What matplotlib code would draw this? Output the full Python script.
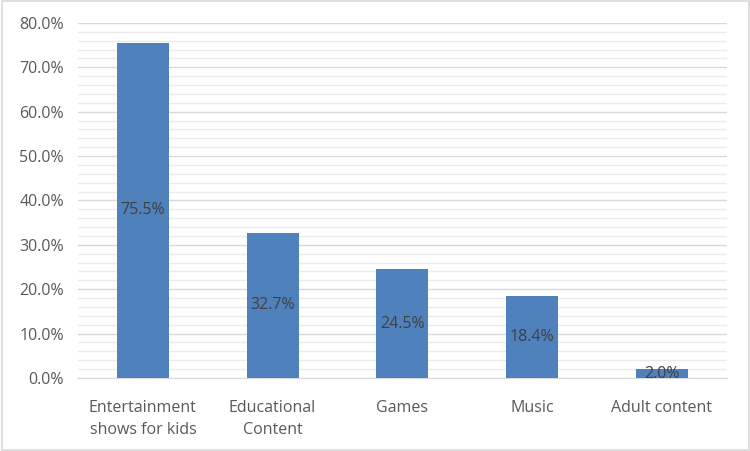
import matplotlib
matplotlib.use("Agg")
import matplotlib.pyplot as plt
from matplotlib.ticker import MultipleLocator, FuncFormatter
from matplotlib.patches import Rectangle

categories = ["Entertainment\nshows for kids", "Educational\nContent", "Games", "Music", "Adult content"]
values = [75.5, 32.7, 24.5, 18.4, 2.0]

plt.rcParams['font.family'] = ['Open Sans', 'DejaVu Sans']
fig = plt.figure(figsize=(7.5, 4.51), dpi=100)
ax = fig.add_axes([0.104, 0.162, 0.865, 0.787])
fig.patches.append(Rectangle((0.002, 0.002), 0.996, 0.996, transform=fig.transFigure,
                             fill=False, edgecolor='#d9d9d9', linewidth=1.2))

x = range(len(categories))
ax.bar(x, values, width=0.4, color='#4f81bd', zorder=3)
for xi, v in zip(x, values):
    ax.text(xi, v / 2, f"{v:.1f}%", ha='center', va='center', fontsize=11.5, color='#404040', zorder=4)

ax.set_xlim(-0.5, 4.5)
ax.set_ylim(0, 80)
ax.yaxis.set_major_locator(MultipleLocator(10))
ax.yaxis.set_minor_locator(MultipleLocator(2))
ax.yaxis.set_major_formatter(FuncFormatter(lambda v, p: f"{v:.1f}%"))
ax.grid(axis='y', which='major', color='#d9d9d9', linewidth=1, zorder=0)
ax.grid(axis='y', which='minor', color='#ebebeb', linewidth=1, zorder=0)
ax.set_axisbelow(True)
for s in ['top', 'right', 'left']:
    ax.spines[s].set_visible(False)
ax.spines['bottom'].set_color('#d9d9d9')
ax.set_xticks(list(x))
ax.set_xticklabels(categories, linespacing=1.45)
ax.tick_params(axis='both', which='both', length=0, labelsize=11.5, labelcolor='#595959')
ax.tick_params(axis='x', pad=16)
ax.tick_params(axis='y', pad=10)

fig.savefig("out.png", dpi=100)
